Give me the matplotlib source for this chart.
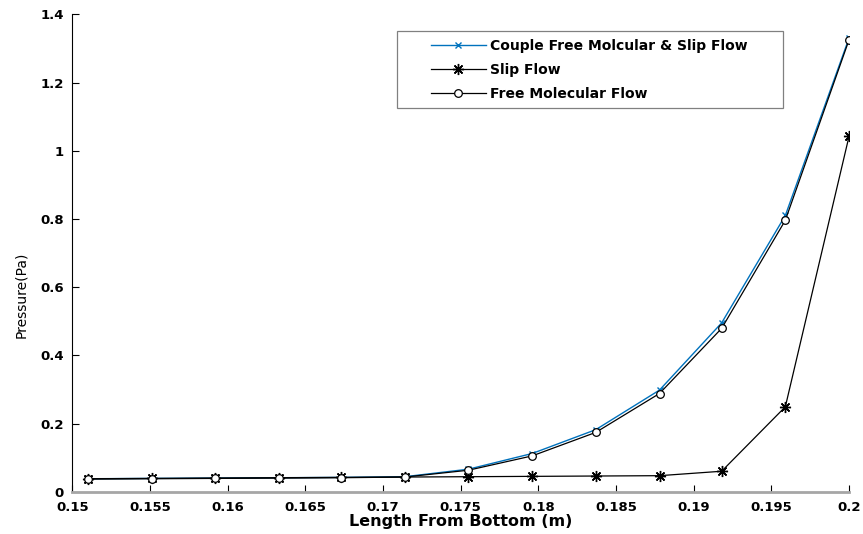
import matplotlib
matplotlib.use("Agg")
import matplotlib.pyplot as plt
from matplotlib.patches import Rectangle

plt.rcParams['font.family'] = ['DejaVu Sans']

length_m = [0.1510, 0.1551, 0.1592, 0.1633, 0.1673, 0.1714, 0.1755,
            0.1796, 0.1837, 0.1878, 0.1918, 0.1959, 0.2000]
couple_flow = [0.038, 0.039, 0.040, 0.041, 0.042, 0.044, 0.066,
               0.112, 0.182, 0.298, 0.495, 0.810, 1.330]
slip_flow = [0.038, 0.039, 0.040, 0.041, 0.042, 0.043, 0.044,
             0.045, 0.046, 0.047, 0.060, 0.249, 1.042]
free_molecular = [0.037, 0.038, 0.039, 0.040, 0.041, 0.043, 0.063,
                  0.105, 0.174, 0.288, 0.479, 0.796, 1.325]

labels = ["Couple Free Molcular & Slip Flow", "Slip Flow", "Free Molecular Flow"]
xticks = [0.15, 0.155, 0.16, 0.165, 0.17, 0.175, 0.18, 0.185, 0.19, 0.195, 0.2]
xticklabels = ["0.15", "0.155", "0.16", "0.165", "0.17", "0.175", "0.18",
               "0.185", "0.19", "0.195", "0.2"]
yticks = [0, 0.2, 0.4, 0.6, 0.8, 1.0, 1.2, 1.4]
yticklabels = ["0", "0.2", "0.4", "0.6", "0.8", "1", "1.2", "1.4"]

fig = plt.figure(figsize=(8.63, 5.34), dpi=100)
ax = fig.add_axes([0.0838, 0.0792, 0.9000, 0.8940])

asterisk = (8, 2, 0)
ax.plot(length_m, couple_flow, color='#0072BD', lw=1.0, marker='x',
        markersize=5, markeredgewidth=1.0, label=labels[0], zorder=3)
ax.plot(length_m, slip_flow, color='black', lw=0.9, marker=asterisk,
        markersize=8, markeredgewidth=1.0, label=labels[1], zorder=4)
ax.plot(length_m, free_molecular, color='black', lw=0.9, marker='o',
        markersize=5.5, markerfacecolor='white', markeredgewidth=0.9,
        label=labels[2], zorder=5)

ax.set_xlim(0.15, 0.2)
ax.set_ylim(0, 1.4)
ax.set_xticks(xticks)
ax.set_xticklabels(xticklabels, fontsize=9.5, fontweight='bold')
ax.set_yticks(yticks)
ax.set_yticklabels(yticklabels, fontsize=9.5, fontweight='bold')
ax.tick_params(direction='in', length=5, width=0.8, colors='black')
ax.tick_params(axis='x', pad=7)
ax.tick_params(axis='y', pad=6)

ax.spines['top'].set_visible(False)
ax.spines['right'].set_visible(False)
ax.spines['left'].set_color('black')
ax.spines['left'].set_linewidth(0.8)
ax.spines['bottom'].set_color('#a6a6a6')
ax.spines['bottom'].set_linewidth(2.0)

ax.set_xlabel("Length From Bottom (m)", fontsize=11.5, fontweight='bold', labelpad=0)
ax.set_ylabel("Pressure(Pa)", fontsize=10)
ax.yaxis.set_label_coords(-0.057, 0.412)

# legend frame (MATLAB-style wide horizontal padding)
ax.add_patch(Rectangle((0.418, 0.804), 0.497, 0.161, transform=ax.transAxes,
                       facecolor='white', edgecolor='#808080', linewidth=0.9,
                       zorder=9, clip_on=False))
leg = ax.legend(loc='upper left', bbox_to_anchor=(0.4614, 0.948),
                prop={'size': 10, 'weight': 'bold'}, handlelength=4.0,
                handletextpad=0.3, labelspacing=0.72, borderpad=0,
                frameon=False, borderaxespad=0)
leg.set_zorder(10)

fig.savefig("out.png", dpi=100)
